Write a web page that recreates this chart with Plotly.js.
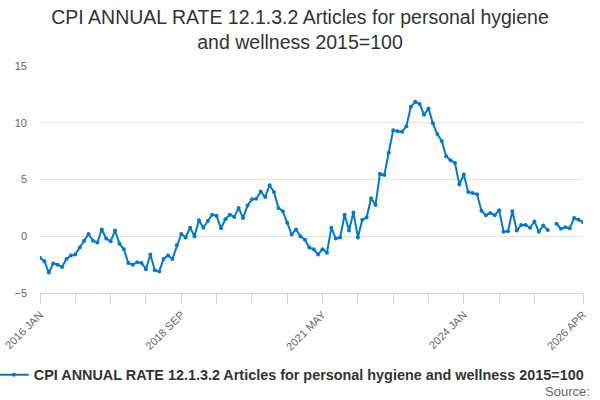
<!DOCTYPE html>
<html>
<head>
<meta charset="utf-8">
<script src="https://cdn.plot.ly/plotly-3.0.1.min.js"></script>
<style>
  html, body { margin: 0; padding: 0; background: #fff; }
  #plot1 { width: 600px; height: 400px; }
</style>
</head>
<body>
<div id="plot1"></div>
<script>
  // month names used to build the category labels, 2016 JAN .. 2026 APR
  var monthNames = ['JAN', 'FEB', 'MAR', 'APR', 'MAY', 'JUN', 'JUL', 'AUG', 'SEP', 'OCT', 'NOV', 'DEC'];
  var months = [];
  for (var yr = 2016; yr <= 2026; yr++) {
    for (var m = 0; m < 12; m++) {
      if (yr === 2026 && m > 3) break;
      months.push(yr + ' ' + monthNames[m]);
    }
  }

  // annual rate, % (one month missing in 2025)
  var rate = [
    -1.9, -2.2, -3.2, -2.4, -2.5, -2.7, -2.0, -1.7, -1.6, -1.0, -0.4, 0.2,
    -0.4, -0.55, 0.6, -0.2, -0.45, 0.5, -0.65, -1.15, -2.35, -2.5, -2.3, -2.35,
    -2.9, -1.6, -3.0, -3.1, -2.0, -1.7, -2.0, -0.8, 0.2, -0.1, 0.75, 0.0,
    1.4, 0.75, 1.35, 1.9, 1.8, 0.7, 1.5, 1.9, 1.7, 2.5, 1.6, 2.7,
    3.25, 3.3, 3.95, 3.45, 4.5, 3.9, 2.5, 2.2, 1.2, 0.15, 0.6, 0.0,
    -0.3, -1.0, -1.15, -1.6, -1.15, -1.45, 0.75, -0.2, -0.1, 1.9, 0.5, 2.1,
    -0.1, 1.45, 1.65, 3.35, 2.75, 5.5, 5.4, 7.35, 9.35, 9.25, 9.2, 9.7,
    11.4, 11.85, 11.65, 10.7, 11.25, 9.95, 9.0, 8.4, 7.05, 6.7, 6.45, 4.55,
    5.45, 3.9, 3.8, 3.7, 2.25, 1.85, 2.05, 1.85, 2.3, 0.4, 0.45, 2.2,
    0.5, 1.0, 1.0, 0.75, 1.3, 0.4, 0.95, 0.55, null, 1.1, 0.65, 0.8,
    0.7, 1.6, 1.45, 1.25
  ];

  // ticks every 8 months, labels on every 4th tick, plus the last month
  var tickIdx = [0, 8, 16, 24, 32, 40, 48, 56, 64, 72, 80, 88, 96, 104, 112, 123];
  var labelIdx = [0, 32, 64, 96, 123];

  var tickVals = tickIdx.map(function (i) { return months[i]; });
  var tickText = tickIdx.map(function (i) { return labelIdx.indexOf(i) >= 0 ? months[i] : ''; });

  var font = '"Liberation Sans", Arial, sans-serif';

  var series = {
    x: months,
    y: rate,
    name: 'CPI ANNUAL RATE 12.1.3.2 Articles for personal hygiene and wellness 2015=100',
    type: 'scatter',
    mode: 'lines+markers',
    connectgaps: false,
    line: {color: '#0679c2', width: 2},
    marker: {color: '#0679c2', size: 4}
  };

  var layout = {
    width: 600,
    height: 400,
    paper_bgcolor: '#fff',
    plot_bgcolor: '#fff',
    font: {family: font, color: '#333'},
    margin: {l: 40, r: 17, t: 66, b: 107, autoexpand: false},
    title: {
      text: 'CPI ANNUAL RATE 12.1.3.2 Articles for personal hygiene<br>and wellness 2015=100',
      font: {family: font, size: 19.5, color: '#333'},
      x: 0.5,
      xanchor: 'center',
      y: 0.94,
      yanchor: 'top'
    },
    xaxis: {
      type: 'category',
      range: [0, months.length - 1],
      tickmode: 'array',
      tickvals: tickVals,
      ticktext: tickText,
      tickangle: -45,
      ticks: 'outside',
      ticklen: 10,
      tickcolor: '#ccd6eb',
      showline: true,
      linecolor: '#ccd6eb',
      linewidth: 1,
      showgrid: false,
      zeroline: false,
      tickfont: {family: font, size: 11, color: '#666'}
    },
    yaxis: {
      range: [-5, 15],
      dtick: 5,
      tick0: -5,
      showgrid: true,
      gridcolor: '#e6e6e6',
      zeroline: false,
      showline: false,
      ticklabelstandoff: 12,
      tickfont: {family: font, size: 11, color: '#666'}
    },
    showlegend: true,
    legend: {
      orientation: 'h',
      x: -0.085,
      xanchor: 'left',
      y: -0.29,
      yanchor: 'top',
      font: {family: font, size: 14.4, color: '#333', weight: 'bold'}
    },
    annotations: [{
      text: 'Source:',
      xref: 'paper',
      yref: 'paper',
      x: 1.017,
      xanchor: 'right',
      y: -0.39,
      yanchor: 'top',
      showarrow: false,
      font: {family: font, size: 13, color: '#666'}
    }]
  };

  Plotly.newPlot('plot1', [series], layout, {displayModeBar: false, staticPlot: true});
</script>
</body>
</html>
